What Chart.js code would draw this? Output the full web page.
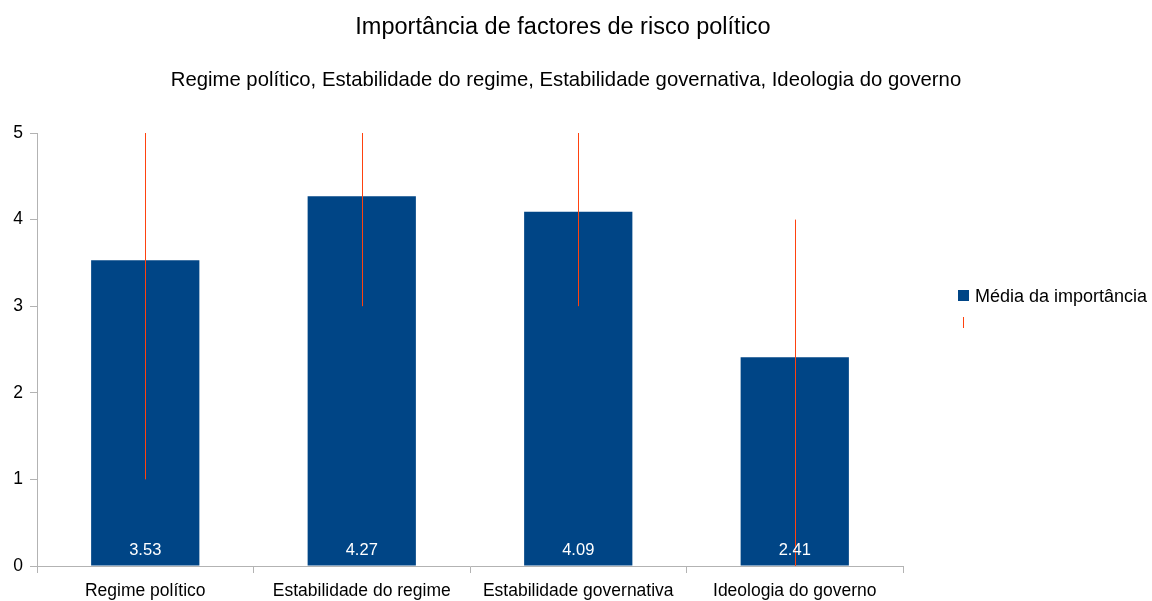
<!DOCTYPE html>
<html>
<head>
<meta charset="utf-8">
<script src="https://cdn.jsdelivr.net/npm/chart.js@4.4.0/dist/chart.umd.min.js"></script>
<style>
  html,body{margin:0;padding:0;background:#fff;}
  #wrap{width:1152px;height:601px;}
</style>
</head>
<body>
<div id="wrap"><canvas id="chart" width="1152" height="601"></canvas></div>
<script>
// Dados do gráfico
const categories = ['Regime político', 'Estabilidade do regime', 'Estabilidade governativa', 'Ideologia do governo'];
const means = [3.53, 4.27, 4.09, 2.41];
const errLow = [1, 3, 3, 0];
const errHigh = [5, 5, 5, 4];
const yTicks = [0, 1, 2, 3, 4, 5];
const chartTitle = 'Importância de factores de risco político';
const chartSubtitle = 'Regime político, Estabilidade do regime, Estabilidade governativa, Ideologia do governo';
const seriesName = 'Média da importância';

const BAR = '#004586', ERR = '#ff420e', AXIS = '#b3b3b3';
const FONT = '"Liberation Sans", Arial, sans-serif';

// Títulos, barras de erro, rótulos e legenda
const extras = {
  id: 'extras',
  afterDatasetsDraw(chart){
    const ctx = chart.ctx, x = chart.scales.x, y = chart.scales.y;
    ctx.save();
    // barras de erro
    ctx.strokeStyle = ERR; ctx.lineWidth = 1;
    categories.forEach((c,i)=>{
      const px = Math.round(x.getPixelForValue(i)) + 0.5;
      ctx.beginPath();
      ctx.moveTo(px, y.getPixelForValue(errLow[i]));
      ctx.lineTo(px, y.getPixelForValue(errHigh[i]));
      ctx.stroke();
    });
    // valores dentro das barras
    ctx.fillStyle = '#fff'; ctx.font = '16.5px ' + FONT;
    ctx.textAlign = 'center'; ctx.textBaseline = 'alphabetic';
    means.forEach((v,i)=>{
      ctx.fillText(v.toFixed(2), x.getPixelForValue(i), y.getPixelForValue(0) - 11);
    });
    // títulos
    ctx.fillStyle = '#000';
    ctx.font = '23.5px ' + FONT;
    ctx.fillText(chartTitle, 563, 34);
    ctx.font = '20.3px ' + FONT;
    ctx.fillText(chartSubtitle, 566, 86);
    // legenda
    ctx.fillStyle = BAR;
    ctx.fillRect(958, 290, 11, 11);
    ctx.fillStyle = '#000'; ctx.textAlign = 'left';
    ctx.font = '18px ' + FONT;
    ctx.fillText(seriesName, 975, 302);
    ctx.strokeStyle = ERR;
    ctx.beginPath(); ctx.moveTo(963.5, 317); ctx.lineTo(963.5, 328); ctx.stroke();
    ctx.restore();
  }
};

new Chart(document.getElementById('chart'), {
  type: 'bar',
  data: {
    labels: categories,
    datasets: [{
      label: seriesName,
      data: means,
      backgroundColor: BAR,
      borderWidth: 0,
      categoryPercentage: 1,
      barPercentage: 0.5
    }]
  },
  options: {
    responsive: false,
    animation: false,
    layout: { padding: { left: 0, right: 249, top: 133, bottom: 0 } },
    plugins: { legend: { display: false }, title: { display: false }, tooltip: { enabled: false } },
    scales: {
      x: {
        grid: { display: true, offset: true, drawOnChartArea: false, drawTicks: true, tickLength: 7, color: AXIS },
        border: { color: AXIS },
        ticks: { color: '#000', font: { family: FONT, size: 17.5 }, padding: 8, maxRotation: 0 },
        afterFit(s){ s.height = 35; }
      },
      y: {
        min: 0, max: 5,
        afterBuildTicks(s){ s.ticks = yTicks.map(v=>({value:v})); },
        grid: { display: true, drawOnChartArea: false, drawTicks: true, tickLength: 7, color: AXIS },
        border: { color: AXIS },
        ticks: { color: '#000', font: { family: FONT, size: 17.5 }, padding: 7 },
        afterFit(s){ s.width = 37; }
      }
    }
  },
  plugins: [extras]
});
</script>
</body>
</html>
